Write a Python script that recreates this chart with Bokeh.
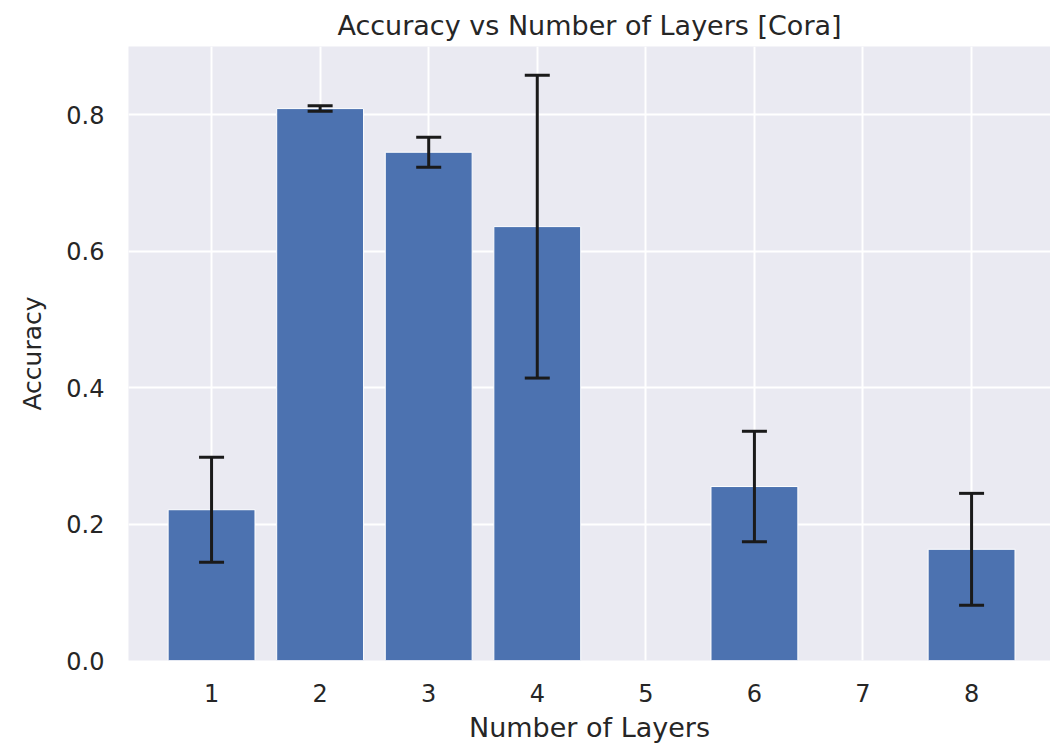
import math
from bokeh.plotting import figure
from bokeh.models import ColumnDataSource, Range1d, FixedTicker, CustomJSTickFormatter
from bokeh.embed import file_html
from bokeh.resources import INLINE

# ---- data ----
layers = [1, 2, 3, 4, 5, 6, 7, 8]
accuracy = [0.221, 0.809, 0.745, 0.636, float("nan"), 0.255, float("nan"), 0.163]
accuracy_std = [0.077, 0.004, 0.022, 0.222, float("nan"), 0.081, float("nan"), 0.082]
y_ticks = [0.0, 0.2, 0.4, 0.6, 0.8]

# keep only layers that have a result
xs, ys, es = [], [], []
for l, a, e in zip(layers, accuracy, accuracy_std):
    if not math.isnan(a):
        xs.append(l)
        ys.append(a)
        es.append(e)

src = ColumnDataSource(dict(
    x=xs, top=ys,
    lower=[a - e for a, e in zip(ys, es)],
    upper=[a + e for a, e in zip(ys, es)],
))

TEXT = "#262626"
FONT = "DejaVu Sans"
ERR = "#1a1a1a"

p = figure(width=1050, height=747, output_backend="svg", toolbar_location=None,
           x_range=Range1d(0.235, 8.727), y_range=Range1d(0.0, 0.9),
           min_border_left=128, min_border_right=0, min_border_top=46,
           min_border_bottom=87, title="Accuracy vs Number of Layers [Cora]")

p.background_fill_color = "#eaeaf2"
p.border_fill_color = "white"
p.outline_line_color = None

p.title.text_font = FONT
p.title.text_font_size = "27px"
p.title.text_font_style = "normal"
p.title.text_color = TEXT
p.title.align = "center"
p.title.standoff = 12

for ax in (p.xaxis[0], p.yaxis[0]):
    ax.axis_line_color = None
    ax.major_tick_line_color = None
    ax.minor_tick_line_color = None
    ax.major_tick_in = 0
    ax.major_tick_out = 0
    ax.minor_tick_in = 0
    ax.minor_tick_out = 0
    ax.major_label_text_font = FONT
    ax.major_label_text_font_size = "24px"
    ax.major_label_text_color = TEXT
    ax.axis_label_text_font = FONT
    ax.axis_label_text_font_style = "normal"
    ax.axis_label_text_color = TEXT

p.xaxis.axis_label_text_font_size = "27px"
p.yaxis.axis_label_text_font_size = "25px"

p.xaxis.ticker = FixedTicker(ticks=layers)
p.yaxis.ticker = FixedTicker(ticks=y_ticks)
p.yaxis.formatter = CustomJSTickFormatter(code="return tick.toFixed(1);")
p.xaxis.axis_label = "Number of Layers"
p.yaxis.axis_label = "Accuracy"
p.xaxis.major_label_standoff = 23
p.yaxis.major_label_standoff = 24
p.xaxis.axis_label_standoff = 7
p.yaxis.axis_label_standoff = 16

p.xgrid.grid_line_color = "white"
p.ygrid.grid_line_color = "white"
p.xgrid.grid_line_width = 2
p.ygrid.grid_line_width = 2

p.vbar(x="x", top="top", bottom=0, width=0.8, source=src,
       fill_color="#4c72b0", line_color="white", line_width=1)

# error bars drawn on top of bars
p.segment(x0="x", y0="lower", x1="x", y1="upper", source=src,
          line_color=ERR, line_width=3)
p.scatter(x="x", y="lower", source=src, marker="dash", size=25,
          line_color=ERR, line_width=3)
p.scatter(x="x", y="upper", source=src, marker="dash", size=25,
          line_color=ERR, line_width=3)

open("out.html", "w").write(file_html(p, INLINE))
